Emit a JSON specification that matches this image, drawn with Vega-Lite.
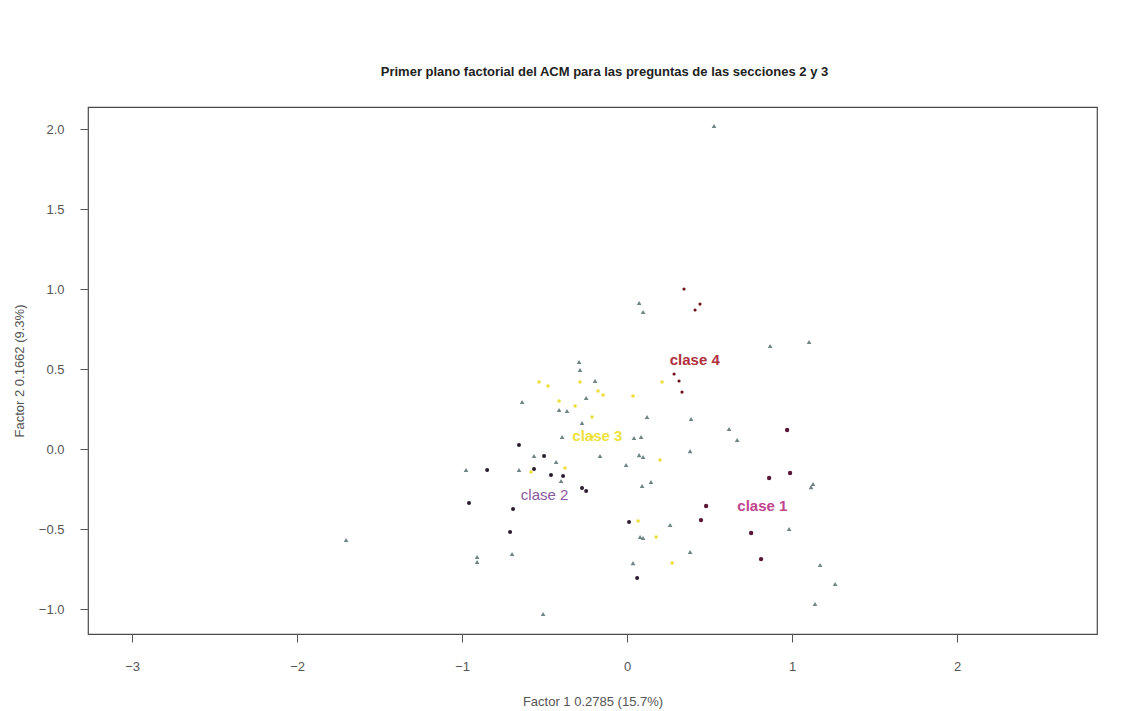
{
  "$schema": "https://vega.github.io/schema/vega-lite/v6.json",
  "width": 1009,
  "height": 527,
  "autosize": {"type": "none"},
  "padding": {"left": 88, "top": 107, "right": 44, "bottom": 77},
  "background": "white",
  "config": {
    "view": {"stroke": "#4a4a4a", "strokeWidth": 1.2},
    "font": "Liberation Sans"
  },
  "title": {
    "text": "Primer plano factorial del ACM para las preguntas de las secciones 2 y 3",
    "fontSize": 13,
    "fontWeight": "bold",
    "color": "#222222",
    "offset": 28,
    "anchor": "middle",
    "dx": 12
  },
  "datasets": {
    "pts": [
      {"x": 0.527, "y": 2.019, "tipo": "modalidad"},
      {"x": 0.073, "y": 0.913, "tipo": "modalidad"},
      {"x": 0.097, "y": 0.856, "tipo": "modalidad"},
      {"x": -0.291, "y": 0.544, "tipo": "modalidad"},
      {"x": -0.285, "y": 0.494, "tipo": "modalidad"},
      {"x": -0.194, "y": 0.425, "tipo": "modalidad"},
      {"x": -0.636, "y": 0.294, "tipo": "modalidad"},
      {"x": -0.248, "y": 0.319, "tipo": "modalidad"},
      {"x": -0.412, "y": 0.244, "tipo": "modalidad"},
      {"x": -0.364, "y": 0.238, "tipo": "modalidad"},
      {"x": -0.273, "y": 0.163, "tipo": "modalidad"},
      {"x": 0.121, "y": 0.2, "tipo": "modalidad"},
      {"x": 0.388, "y": 0.188, "tipo": "modalidad"},
      {"x": -0.394, "y": 0.075, "tipo": "modalidad"},
      {"x": 0.042, "y": 0.069, "tipo": "modalidad"},
      {"x": 0.085, "y": 0.075, "tipo": "modalidad"},
      {"x": -0.164, "y": -0.044, "tipo": "modalidad"},
      {"x": 0.073, "y": -0.038, "tipo": "modalidad"},
      {"x": 0.097, "y": -0.05, "tipo": "modalidad"},
      {"x": 0.382, "y": -0.013, "tipo": "modalidad"},
      {"x": -0.564, "y": -0.044, "tipo": "modalidad"},
      {"x": -0.43, "y": -0.081, "tipo": "modalidad"},
      {"x": -0.006, "y": -0.1, "tipo": "modalidad"},
      {"x": -0.976, "y": -0.131, "tipo": "modalidad"},
      {"x": -0.655, "y": -0.131, "tipo": "modalidad"},
      {"x": -0.4, "y": -0.2, "tipo": "modalidad"},
      {"x": 0.091, "y": -0.231, "tipo": "modalidad"},
      {"x": 0.145, "y": -0.206, "tipo": "modalidad"},
      {"x": 0.261, "y": -0.475, "tipo": "modalidad"},
      {"x": 0.079, "y": -0.55, "tipo": "modalidad"},
      {"x": 0.097, "y": -0.556, "tipo": "modalidad"},
      {"x": 0.382, "y": -0.644, "tipo": "modalidad"},
      {"x": 0.036, "y": -0.713, "tipo": "modalidad"},
      {"x": -0.697, "y": -0.656, "tipo": "modalidad"},
      {"x": -0.909, "y": -0.675, "tipo": "modalidad"},
      {"x": -0.909, "y": -0.706, "tipo": "modalidad"},
      {"x": -0.509, "y": -1.031, "tipo": "modalidad"},
      {"x": -1.703, "y": -0.569, "tipo": "modalidad"},
      {"x": 1.103, "y": 0.669, "tipo": "modalidad"},
      {"x": 0.867, "y": 0.644, "tipo": "modalidad"},
      {"x": 0.618, "y": 0.125, "tipo": "modalidad"},
      {"x": 0.667, "y": 0.056, "tipo": "modalidad"},
      {"x": 1.127, "y": -0.219, "tipo": "modalidad"},
      {"x": 1.115, "y": -0.238, "tipo": "modalidad"},
      {"x": 0.982, "y": -0.5, "tipo": "modalidad"},
      {"x": 1.17, "y": -0.725, "tipo": "modalidad"},
      {"x": 1.261, "y": -0.844, "tipo": "modalidad"},
      {"x": 1.139, "y": -0.969, "tipo": "modalidad"},
      {"x": 0.345, "y": 1.0, "tipo": "clase 4"},
      {"x": 0.412, "y": 0.869, "tipo": "clase 4"},
      {"x": 0.442, "y": 0.906, "tipo": "clase 4"},
      {"x": 0.285, "y": 0.469, "tipo": "clase 4"},
      {"x": 0.315, "y": 0.425, "tipo": "clase 4"},
      {"x": 0.333, "y": 0.356, "tipo": "clase 4"},
      {"x": -0.655, "y": 0.025, "tipo": "clase 2"},
      {"x": -0.503, "y": -0.044, "tipo": "clase 2"},
      {"x": -0.848, "y": -0.131, "tipo": "clase 2"},
      {"x": -0.564, "y": -0.125, "tipo": "clase 2"},
      {"x": -0.461, "y": -0.163, "tipo": "clase 2"},
      {"x": -0.388, "y": -0.169, "tipo": "clase 2"},
      {"x": -0.273, "y": -0.244, "tipo": "clase 2"},
      {"x": -0.248, "y": -0.263, "tipo": "clase 2"},
      {"x": -0.958, "y": -0.338, "tipo": "clase 2"},
      {"x": -0.691, "y": -0.375, "tipo": "clase 2"},
      {"x": -0.709, "y": -0.519, "tipo": "clase 2"},
      {"x": 0.012, "y": -0.456, "tipo": "clase 2"},
      {"x": 0.061, "y": -0.806, "tipo": "clase 2"},
      {"x": 0.479, "y": -0.356, "tipo": "clase 1"},
      {"x": 0.448, "y": -0.444, "tipo": "clase 1"},
      {"x": 0.97, "y": 0.119, "tipo": "clase 1"},
      {"x": 0.988, "y": -0.15, "tipo": "clase 1"},
      {"x": 0.861, "y": -0.181, "tipo": "clase 1"},
      {"x": 0.752, "y": -0.525, "tipo": "clase 1"},
      {"x": 0.812, "y": -0.688, "tipo": "clase 1"},
      {"x": -0.533, "y": 0.419, "tipo": "clase 3"},
      {"x": -0.479, "y": 0.394, "tipo": "clase 3"},
      {"x": -0.285, "y": 0.419, "tipo": "clase 3"},
      {"x": -0.176, "y": 0.363, "tipo": "clase 3"},
      {"x": -0.145, "y": 0.338, "tipo": "clase 3"},
      {"x": 0.036, "y": 0.331, "tipo": "clase 3"},
      {"x": 0.212, "y": 0.419, "tipo": "clase 3"},
      {"x": -0.412, "y": 0.3, "tipo": "clase 3"},
      {"x": -0.315, "y": 0.269, "tipo": "clase 3"},
      {"x": -0.212, "y": 0.2, "tipo": "clase 3"},
      {"x": -0.212, "y": 0.075, "tipo": "clase 3"},
      {"x": -0.376, "y": -0.119, "tipo": "clase 3"},
      {"x": -0.582, "y": -0.144, "tipo": "clase 3"},
      {"x": 0.2, "y": -0.069, "tipo": "clase 3"},
      {"x": 0.067, "y": -0.45, "tipo": "clase 3"},
      {"x": 0.176, "y": -0.55, "tipo": "clase 3"},
      {"x": 0.273, "y": -0.713, "tipo": "clase 3"}
    ],
    "labels": [
      {"x": 0.82, "y": -0.356, "etiqueta": "clase 1", "tipo": "clase 1"},
      {"x": -0.5, "y": -0.29, "etiqueta": "clase 2", "tipo": "clase 2"},
      {"x": -0.18, "y": 0.08, "etiqueta": "clase 3", "tipo": "clase 3"},
      {"x": 0.41, "y": 0.556, "etiqueta": "clase 4", "tipo": "clase 4"}
    ]
  },
  "layer": [
    {
      "data": {"name": "pts"},
      "mark": {"type": "point", "filled": true, "opacity": 1},
      "encoding": {
        "x": {
          "field": "x", "type": "quantitative",
          "scale": {"domain": [-3.267, 2.848], "nice": false, "zero": false},
          "axis": {
            "values": [-3, -2, -1, 0, 1, 2],
            "format": "d",
            "title": "Factor 1  0.2785 (15.7%)",
            "titleFont": "Liberation Sans", "titleFontWeight": "normal", "titleFontSize": 13, "titleColor": "#555555",
            "titlePadding": 22,
            "labelFontSize": 13, "labelColor": "#555555", "labelPadding": 18,
            "tickSize": 8, "tickColor": "#555555",
            "domain": false, "grid": false
          }
        },
        "y": {
          "field": "y", "type": "quantitative",
          "scale": {"domain": [-1.156, 2.1375], "nice": false, "zero": false},
          "axis": {
            "values": [-1, -0.5, 0, 0.5, 1, 1.5, 2],
            "format": ".1f",
            "title": "Factor 2  0.1662 (9.3%)",
            "titleFont": "Liberation Sans", "titleFontWeight": "normal", "titleFontSize": 13, "titleColor": "#555555",
            "titlePadding": 12,
            "labelFontSize": 13, "labelColor": "#555555", "labelPadding": 16,
            "tickSize": 8, "tickColor": "#555555",
            "domain": false, "grid": false
          }
        },
        "shape": {
          "field": "tipo", "type": "nominal", "legend": null,
          "scale": {
            "domain": ["modalidad", "clase 1", "clase 2", "clase 3", "clase 4"],
            "range": ["triangle-up", "circle", "circle", "circle", "circle"]
          }
        },
        "color": {
          "field": "tipo", "type": "nominal", "legend": null,
          "scale": {
            "domain": ["modalidad", "clase 1", "clase 2", "clase 3", "clase 4"],
            "range": ["#6f8585", "#5a1838", "#2a1c30", "#ecdf3c", "#6e1218"]
          }
        },
        "size": {
          "field": "tipo", "type": "nominal", "legend": null,
          "scale": {
            "domain": ["modalidad", "clase 1", "clase 2", "clase 3", "clase 4"],
            "range": [22, 10, 10, 14, 12]
          }
        }
      }
    },
    {
      "data": {"name": "labels"},
      "transform": [{"filter": "datum.tipo != 'clase 2'"}],
      "mark": {"type": "text", "fontSize": 15, "fontWeight": "bold", "font": "Liberation Sans", "align": "center", "baseline": "middle"},
      "encoding": {
        "x": {"field": "x", "type": "quantitative"},
        "y": {"field": "y", "type": "quantitative"},
        "text": {"field": "etiqueta"},
        "color": {
          "field": "tipo", "type": "nominal", "legend": null,
          "scale": {
            "domain": ["modalidad", "clase 1", "clase 2", "clase 3", "clase 4"],
            "range": ["#6f8585", "#c2448e", "#8a5a9e", "#ece23c", "#b0303c"]
          }
        }
      }
    },
    {
      "data": {"name": "labels"},
      "transform": [{"filter": "datum.tipo == 'clase 2'"}],
      "mark": {"type": "text", "fontSize": 15, "font": "Liberation Sans", "align": "center", "baseline": "middle", "color": "#8a5a9e"},
      "encoding": {
        "x": {"field": "x", "type": "quantitative"},
        "y": {"field": "y", "type": "quantitative"},
        "text": {"field": "etiqueta"}
      }
    }
  ],
  "resolve": {"scale": {"color": "independent"}}
}
